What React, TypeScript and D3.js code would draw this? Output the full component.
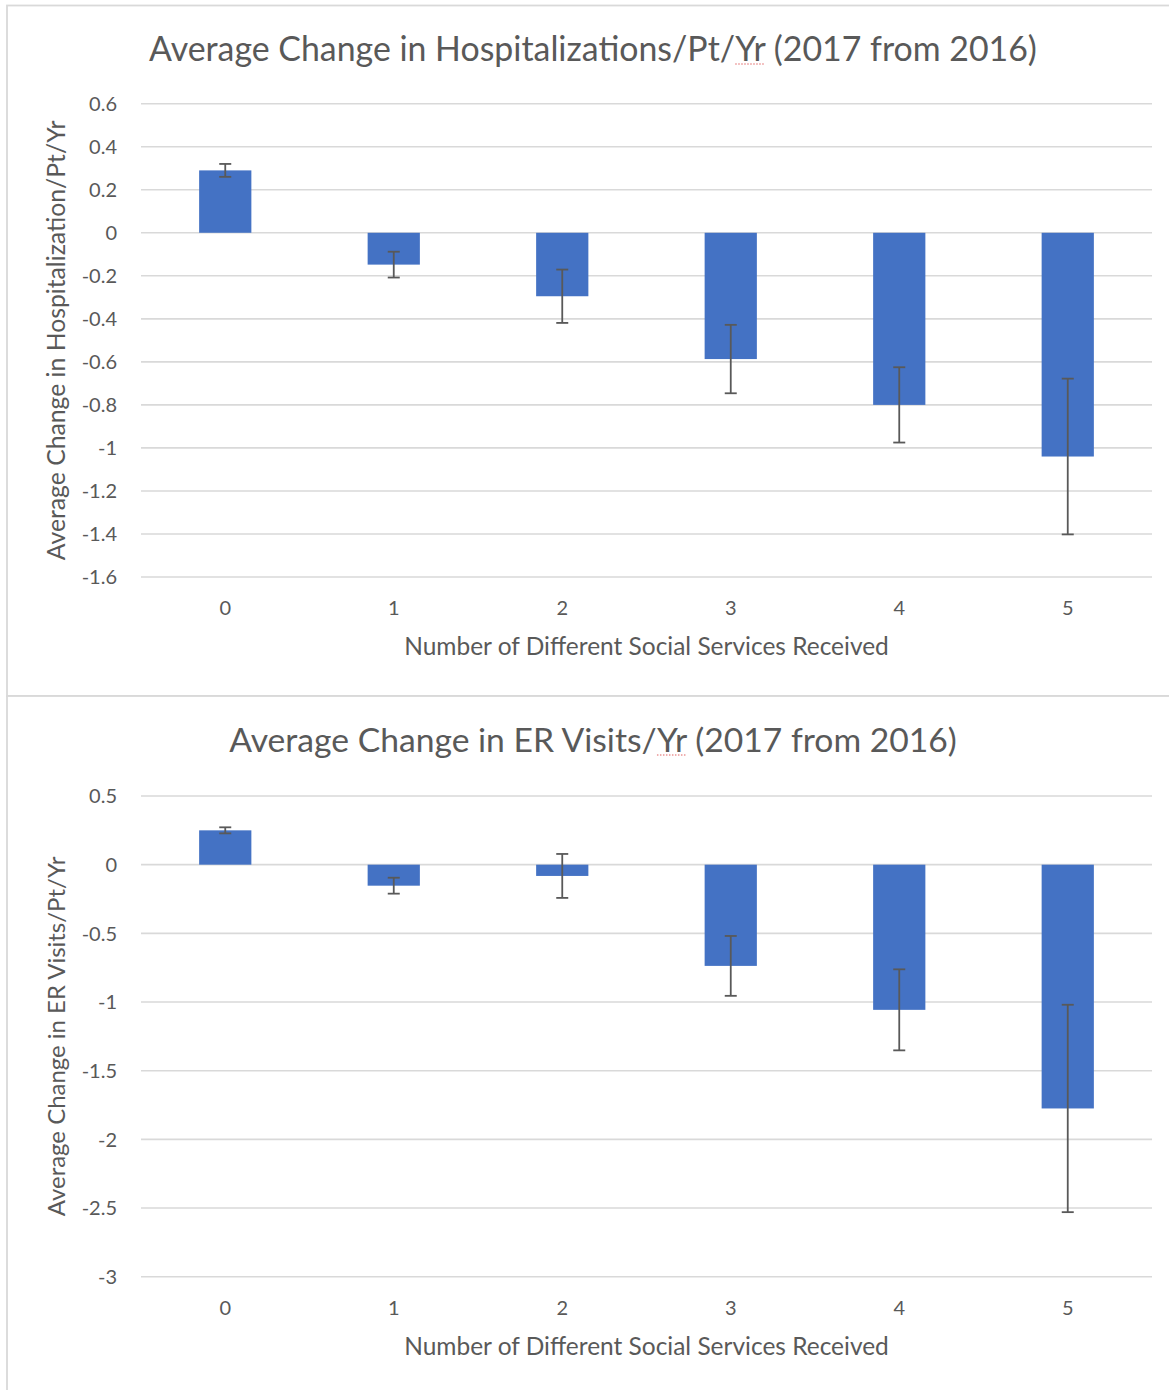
import React, { useEffect, useRef } from 'react';
import * as d3 from 'd3';

// ---- Data ----
const categories = ['0', '1', '2', '3', '4', '5'];

const hospValues = [0.29, -0.148, -0.295, -0.587, -0.8, -1.04];
const hospErrors = [0.03, 0.06, 0.124, 0.159, 0.175, 0.362];
const hospTicks = [0.6, 0.4, 0.2, 0, -0.2, -0.4, -0.6, -0.8, -1, -1.2, -1.4, -1.6];

const erValues = [0.25, -0.153, -0.082, -0.737, -1.057, -1.775];
const erErrors = [0.022, 0.058, 0.16, 0.218, 0.295, 0.755];
const erTicks = [0.5, 0, -0.5, -1, -1.5, -2, -2.5, -3];

const hospTitle = 'Average Change in Hospitalizations/Pt/Yr (2017 from 2016)';
const hospYTitle = 'Average Change in Hospitalization/Pt/Yr';
const erTitle = 'Average Change in ER Visits/Yr (2017 from 2016)';
const erYTitle = 'Average Change in ER Visits/Pt/Yr';
const xTitle = 'Number of Different Social Services Received';

const FONT = "Lato, 'Open Sans', sans-serif";
const TEXT = '#595959';
const GRID = '#d9d9d9';
const BAR = '#4472C4';

const fmt = (v: number) => {
  const r = Math.round(v * 10) / 10;
  return r === 0 ? '0' : String(r);
};

type Panel = {
  values: number[];
  errors: number[];
  ticks: number[];
  title: string;
  yTitle: string;
  frameTop: number;
  frameH: number;
  titleY: number;
  titleW: number;
  plotTop: number;
  plotBottom: number;
  yTitleW: number;
};

function fit(sel: any, target: number) {
  const node = sel.node() as SVGTextElement;
  const len = node.getComputedTextLength();
  const fs = parseFloat(sel.attr('font-size'));
  if (len > 0) sel.attr('font-size', (fs * target) / len);
}

function drawPanel(svg: any, p: Panel) {
  const g = svg.append('g');
  const left = 141;
  const right = 1152;

  g.append('rect')
    .attr('x', 7)
    .attr('y', p.frameTop)
    .attr('width', 1175)
    .attr('height', p.frameH)
    .attr('fill', '#fff')
    .attr('stroke', GRID)
    .attr('stroke-width', 1.8);

  const x = d3
    .scaleBand<string>()
    .domain(categories)
    .range([left, right])
    .paddingInner(0.69)
    .paddingOuter(0.345);

  const ext = d3.extent(p.ticks) as [number, number];
  const y = d3.scaleLinear().domain(ext).range([p.plotBottom, p.plotTop]);

  // gridlines
  g.selectAll('line.grid')
    .data(p.ticks)
    .join('line')
    .attr('x1', left)
    .attr('x2', right)
    .attr('y1', (d: number) => y(d))
    .attr('y2', (d: number) => y(d))
    .attr('stroke', GRID)
    .attr('stroke-width', 1.6);

  // y tick labels
  g.selectAll('text.ytick')
    .data(p.ticks)
    .join('text')
    .attr('x', 117)
    .attr('y', (d: number) => y(d))
    .attr('dy', '0.36em')
    .attr('text-anchor', 'end')
    .attr('font-family', FONT)
    .attr('font-size', 20)
    .attr('fill', TEXT)
    .text((d: number) => fmt(d));

  // bars
  const data = categories.map((c, i) => ({ c, v: p.values[i], e: p.errors[i] }));
  g.selectAll('rect.bar')
    .data(data)
    .join('rect')
    .attr('x', (d: any) => x(d.c)!)
    .attr('width', x.bandwidth())
    .attr('y', (d: any) => y(Math.max(0, d.v)))
    .attr('height', (d: any) => Math.abs(y(d.v) - y(0)))
    .attr('fill', BAR);

  // error bars
  const eb = g.selectAll('g.err').data(data).join('g');
  const cx = (d: any) => x(d.c)! + x.bandwidth() / 2;
  eb.append('line')
    .attr('x1', cx)
    .attr('x2', cx)
    .attr('y1', (d: any) => y(d.v + d.e))
    .attr('y2', (d: any) => y(d.v - d.e))
    .attr('stroke', TEXT)
    .attr('stroke-width', 1.8);
  [1, -1].forEach((s) => {
    eb.append('line')
      .attr('x1', (d: any) => cx(d) - 6)
      .attr('x2', (d: any) => cx(d) + 6)
      .attr('y1', (d: any) => y(d.v + s * d.e))
      .attr('y2', (d: any) => y(d.v + s * d.e))
      .attr('stroke', TEXT)
      .attr('stroke-width', 1.8);
  });

  // x tick labels
  g.selectAll('text.xtick')
    .data(categories)
    .join('text')
    .attr('x', (d: string) => x(d)! + x.bandwidth() / 2)
    .attr('y', p.plotBottom + 38)
    .attr('text-anchor', 'middle')
    .attr('font-family', FONT)
    .attr('font-size', 20)
    .attr('fill', TEXT)
    .text((d: string) => d);

  // x axis title
  const xt = g
    .append('text')
    .attr('x', (left + right) / 2)
    .attr('y', p.plotBottom + 78)
    .attr('text-anchor', 'middle')
    .attr('font-family', FONT)
    .attr('font-size', 21)
    .attr('fill', TEXT)
    .text(xTitle);
  fit(xt, 485);

  // y axis title
  const cy = (p.plotTop + p.plotBottom) / 2;
  const yt = g
    .append('text')
    .attr('transform', `translate(65,${cy}) rotate(-90)`)
    .attr('text-anchor', 'middle')
    .attr('font-family', FONT)
    .attr('font-size', 21)
    .attr('fill', TEXT)
    .text(p.yTitle);
  fit(yt, p.yTitleW);

  // chart title
  const tt = g
    .append('text')
    .attr('x', 593)
    .attr('y', p.titleY)
    .attr('text-anchor', 'middle')
    .attr('font-family', FONT)
    .attr('font-size', 29)
    .attr('fill', TEXT)
    .text(p.title);
  fit(tt, p.titleW);

  // spell-check squiggle under "Yr"
  const node = tt.node() as SVGTextElement;
  const idx = p.title.indexOf('Yr');
  if (idx >= 0) {
    const s = node.getStartPositionOfChar(idx);
    const e = node.getEndPositionOfChar(idx + 1);
    g.append('line')
      .attr('x1', s.x)
      .attr('x2', e.x)
      .attr('y1', p.titleY + 3)
      .attr('y2', p.titleY + 3)
      .attr('stroke', '#e06060')
      .attr('stroke-width', 1.2)
      .attr('stroke-dasharray', '1.5,1.5');
  }
}

export default function App() {
  const ref = useRef<SVGSVGElement | null>(null);

  useEffect(() => {
    document.body.style.margin = '0';
    const svg = d3.select(ref.current);
    svg.selectAll('*').remove();
    svg.append('rect').attr('width', 1169).attr('height', 1390).attr('fill', '#fff');

    drawPanel(svg, {
      values: hospValues,
      errors: hospErrors,
      ticks: hospTicks,
      title: hospTitle,
      yTitle: hospYTitle,
      frameTop: 5.5,
      frameH: 690.5,
      titleY: 61,
      titleW: 888,
      plotTop: 103.7,
      plotBottom: 577,
      yTitleW: 440,
    });

    drawPanel(svg, {
      values: erValues,
      errors: erErrors,
      ticks: erTicks,
      title: erTitle,
      yTitle: erYTitle,
      frameTop: 696,
      frameH: 720,
      titleY: 752,
      titleW: 728,
      plotTop: 796,
      plotBottom: 1276.7,
      yTitleW: 360,
    });
  }, []);

  return (
    <svg
      ref={ref}
      width={1169}
      height={1390}
      style={{ display: 'block' }}
    />
  );
}
